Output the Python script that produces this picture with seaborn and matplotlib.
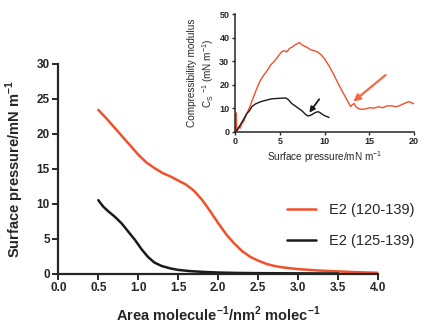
import matplotlib
matplotlib.use("Agg")
import matplotlib.pyplot as plt
import seaborn as sns
import pandas as pd

# Isotherms: surface pressure vs area per molecule
area_120 = [0.5, 0.6, 0.7, 0.8, 0.9, 1.0, 1.1, 1.2, 1.3, 1.4, 1.5, 1.6, 1.7, 1.8, 1.9,
            2.0, 2.1, 2.2, 2.3, 2.4, 2.5, 2.6, 2.7, 2.8, 3.0, 3.25, 3.5, 3.75, 4.0]
pi_120 = [23.4, 22.2, 20.9, 19.6, 18.3, 17.0, 15.9, 15.1, 14.4, 13.9, 13.3, 12.7, 11.8,
          10.5, 8.9, 7.2, 5.6, 4.3, 3.2, 2.4, 1.85, 1.4, 1.1, 0.9, 0.65, 0.45, 0.32,
          0.2, 0.12]

area_125 = [0.5, 0.56, 0.625, 0.7, 0.79, 0.875, 0.96, 1.04, 1.12, 1.2, 1.29, 1.4, 1.5,
            1.65, 1.83, 2.0, 2.25, 2.5, 3.0, 3.5]
pi_125 = [10.5, 9.6, 8.9, 8.2, 7.2, 6.0, 4.8, 3.5, 2.4, 1.6, 1.1, 0.75, 0.53,
          0.36, 0.24, 0.16, 0.1, 0.07, 0.04, 0.02]

# Compressibility modulus vs surface pressure
cs_pi_120 = [0.0, 0.1, 0.15, 0.2, 0.3, 0.4, 0.6, 0.8, 1.0, 1.3, 1.6, 2.0, 2.4, 2.8, 3.2,
             3.6, 4.0, 4.4, 4.8, 5.2, 5.5, 5.8, 6.1, 6.4, 6.7, 7.0, 7.2, 7.4, 7.7, 8.0,
             8.4, 8.8, 9.2, 9.6, 10.0, 10.5, 11.0, 11.5, 12.0, 12.5, 12.9, 13.1, 13.3,
             13.5, 13.8, 14.1, 14.5, 15.0, 15.5, 16.0, 16.5, 17.0, 17.5, 18.0, 18.5,
             19.0, 19.4, 19.7, 20.0]
cs_120 = [0.0, 2.0, 8.0, 1.0, 0.5, 2.0, 1.5, 3.5, 4.5, 7.5, 10.0, 14.0, 18.0, 21.5, 24.0,
          26.0, 28.5, 30.0, 32.0, 34.0, 34.5, 34.0, 35.5, 36.0, 37.0, 37.5, 38.0, 37.2,
          36.5, 36.0, 35.0, 34.5, 34.0, 32.8, 31.0, 28.0, 24.5, 20.6, 17.0, 13.5, 10.7,
          11.5, 12.0, 10.5, 9.8, 9.5, 9.6, 10.2, 10.0, 10.6, 10.2, 11.0, 11.0, 10.6,
          11.3, 12.2, 12.8, 12.3, 11.8]

cs_pi_125 = [0.0, 0.2, 0.4, 0.7, 1.0, 1.3, 1.6, 1.9, 2.3, 2.7, 3.0, 3.5, 4.0, 4.5, 5.0,
             5.4, 5.7, 6.0, 6.3, 6.7, 7.1, 7.5, 7.8, 8.1, 8.4, 8.7, 9.0, 9.3, 9.6, 9.9,
             10.2, 10.5]
cs_125 = [0.0, 0.5, 1.5, 3.5, 5.5, 7.5, 8.8, 10.7, 11.8, 12.5, 12.9, 13.4, 13.9, 14.1,
          14.2, 14.3, 14.3, 13.5, 12.1, 11.0, 9.9, 8.8, 7.6, 6.7, 6.9, 7.5, 8.2, 8.5,
          7.8, 7.0, 6.5, 6.0]

labels = ["E2 (120-139)", "E2 (125-139)"]
colors = ["#F2502A", "#1A1A1A"]

iso = pd.concat([
    pd.DataFrame({"area": area_120, "pi": pi_120, "peptide": labels[0]}),
    pd.DataFrame({"area": area_125, "pi": pi_125, "peptide": labels[1]}),
])
comp = pd.concat([
    pd.DataFrame({"pi": cs_pi_120, "cs": cs_120, "peptide": labels[0]}),
    pd.DataFrame({"pi": cs_pi_125, "cs": cs_125, "peptide": labels[1]}),
])

sns.set_style("ticks")
plt.rcParams["font.family"] = ["Liberation Sans", "DejaVu Sans"]
plt.rcParams["mathtext.fontset"] = "custom"
plt.rcParams["mathtext.rm"] = "Liberation Sans"
plt.rcParams["mathtext.bf"] = "Liberation Sans:bold"

fig = plt.figure(figsize=(4.24, 3.25), dpi=100)
ax = fig.add_axes([0.1375, 0.158, 0.7547, 0.646])
palette = dict(zip(labels, colors))

sns.lineplot(data=iso, x="area", y="pi", hue="peptide", palette=palette,
             estimator=None, sort=False, linewidth=1.8, ax=ax, legend=False)
ax.set_xlim(0, 4)
ax.set_ylim(0, 30)
ax.set_xticks([0.0, 0.5, 1.0, 1.5, 2.0, 2.5, 3.0, 3.5, 4.0])
ax.set_xticklabels(["0.0", "0.5", "1.0", "1.5", "2.0", "2.5", "3.0", "3.5", "4.0"])
ax.set_yticks([0, 5, 10, 15, 20, 25, 30])
sns.despine(ax=ax)
for side in ["left", "bottom"]:
    ax.spines[side].set_linewidth(1.6)
ax.tick_params(width=1.4, length=4, labelsize=8.5, pad=2)
for t in ax.get_xticklabels() + ax.get_yticklabels():
    t.set_fontweight("bold")
ax.set_xlabel(r"Area molecule$^{\mathbf{-1}}$/nm$^{\mathbf{2}}$ molec$^{\mathbf{-1}}$",
              fontsize=10.5, fontweight="bold", labelpad=8)
ax.set_ylabel(r"Surface pressure/mN m$^{\mathbf{-1}}$", fontsize=10.5,
              fontweight="bold", labelpad=8)

handles = [plt.Line2D([], [], color=c, linewidth=1.8) for c in colors]
fig.legend(handles, labels, loc="center left", bbox_to_anchor=(0.645, 0.306),
           frameon=False, fontsize=10.5, handlelength=2.0, labelspacing=1.2,
           handletextpad=0.9)

# Inset: compressibility modulus
ins = fig.add_axes([0.554, 0.595, 0.423, 0.361])
sns.lineplot(data=comp, x="pi", y="cs", hue="peptide", palette=palette,
             estimator=None, sort=False, linewidth=1.0, ax=ins, legend=False)
ins.set_xlim(0, 20)
ins.set_ylim(0, 50)
ins.set_xticks([0, 5, 10, 15, 20])
ins.set_yticks([0, 10, 20, 30, 40, 50])
sns.despine(ax=ins)
for side in ["left", "bottom"]:
    ins.spines[side].set_linewidth(1.1)
ins.tick_params(width=1.0, length=2.5, labelsize=6.5, pad=1.5)
for t in ins.get_xticklabels() + ins.get_yticklabels():
    t.set_fontweight("bold")
ins.set_xlabel(r"Surface pressure/mN m$^{-1}$", fontsize=7.2, labelpad=2)
ins.set_ylabel("Compressibility modulus\n" + r"C$_{\mathrm{S}}$ $^{-1}$ (mN m$^{-1}$)",
               fontsize=7.2, labelpad=2, linespacing=1.3)
ins.patch.set_alpha(0)

ins.annotate("", xy=(8.3, 8.1), xytext=(9.4, 13.8),
             arrowprops=dict(arrowstyle="-|>", color="#1A1A1A", lw=1.3,
                             mutation_scale=8, shrinkA=0, shrinkB=0))
ins.annotate("", xy=(13.2, 12.8), xytext=(16.8, 24.1),
             arrowprops=dict(arrowstyle="-|>", color="#F26A45", lw=1.6,
                             mutation_scale=10, shrinkA=0, shrinkB=0))

fig.savefig("out.png", dpi=100)
